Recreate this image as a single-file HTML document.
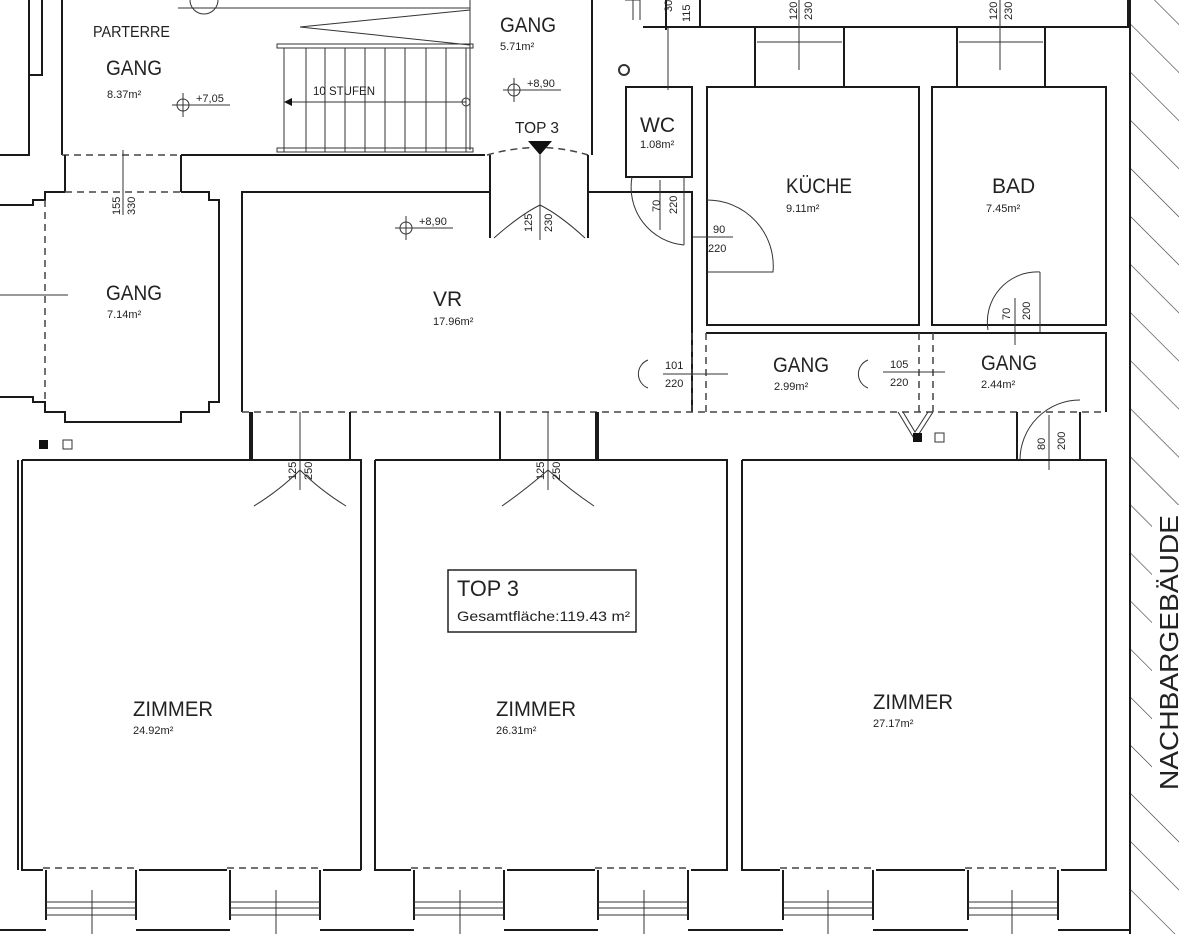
<!DOCTYPE html>
<html><head><meta charset="utf-8"><style>
html,body{margin:0;padding:0;background:#fff;}
svg{display:block;font-family:"Liberation Sans",sans-serif;}
.w{stroke:#1a1a1a;stroke-width:2;fill:none}
.t{stroke:#333;stroke-width:1;fill:none}
.d{stroke:#444;stroke-width:1.5;fill:none;stroke-dasharray:7 5}
text{fill:#222}
.big{font-size:21px}
.sm{font-size:11px}
</style></head><body>
<svg width="1179" height="934" viewBox="0 0 1179 934" xmlns="http://www.w3.org/2000/svg">
<defs>
<pattern id="h" patternUnits="userSpaceOnUse" width="34" height="34" patternTransform="rotate(-45)">
<line x1="0" y1="0" x2="0" y2="34" stroke="#333" stroke-width="1.2"/>
</pattern>
</defs>
<rect x="1131" y="0" width="48" height="934" fill="url(#h)"/>
<rect x="1152" y="505" width="27" height="290" fill="#fff"/>
<line x1="1130" y1="0" x2="1130" y2="934" class="w"/>
<text transform="translate(1178,790) rotate(-90)" font-size="26" textLength="275" lengthAdjust="spacingAndGlyphs">NACHBARGEBÄUDE</text>

<path class="w" d="M29 0V75H42V0 M0 155H29V75"/>
<path class="w" d="M62 0V155 M181 155H485 M592 0V155"/>
<line x1="62" y1="155" x2="181" y2="155" class="d"/>
<path class="d" d="M487 155Q540 140 588 155"/>
<polygon points="528,141 552,141 540,155" fill="#111"/>
<path class="t" d="M178 8H470 M300 27L470 45 M300 27L470 10 M470 0V150"/>
<rect x="277" y="44" width="196" height="4" class="t"/>
<rect x="277" y="148" width="196" height="4" class="t"/>
<g class="t">
<line x1="284" y1="48" x2="284" y2="152"/><line x1="306" y1="48" x2="306" y2="152"/><line x1="325" y1="48" x2="325" y2="152"/><line x1="345" y1="48" x2="345" y2="152"/><line x1="365" y1="48" x2="365" y2="152"/><line x1="385" y1="48" x2="385" y2="152"/><line x1="405" y1="48" x2="405" y2="152"/><line x1="426" y1="48" x2="426" y2="152"/><line x1="446" y1="48" x2="446" y2="152"/><line x1="466" y1="48" x2="466" y2="152"/>
<line x1="288" y1="102" x2="466" y2="102"/>
<circle cx="466" cy="102" r="4"/>
<path d="M190 0A14 14 0 0 0 218 0"/>
</g>
<polygon points="284,102 292,98 292,106" fill="#111"/>
<text x="93" y="37" font-size="16" textLength="77" lengthAdjust="spacingAndGlyphs">PARTERRE</text>
<text x="106" y="75" class="big" textLength="56" lengthAdjust="spacingAndGlyphs">GANG</text>
<text x="107" y="98" class="sm">8.37m²</text>
<text x="313" y="95" font-size="12" textLength="62" lengthAdjust="spacingAndGlyphs">10 STUFEN</text>
<text x="500" y="32" class="big" textLength="56" lengthAdjust="spacingAndGlyphs">GANG</text>
<text x="500" y="50" class="sm">5.71m²</text>
<text x="515" y="133" font-size="16" textLength="44" lengthAdjust="spacingAndGlyphs">TOP 3</text>
<g class="t"><circle cx="183" cy="105" r="6"/><line x1="172" y1="105" x2="230" y2="105"/><line x1="183" y1="93" x2="183" y2="117"/>
<circle cx="514" cy="90" r="6"/><line x1="503" y1="90" x2="561" y2="90"/><line x1="514" y1="78" x2="514" y2="102"/>
<circle cx="406" cy="228" r="6"/><line x1="395" y1="228" x2="453" y2="228"/><line x1="406" y1="216" x2="406" y2="240"/>
<circle cx="624" cy="70" r="5" stroke-width="2"/></g>
<text x="196" y="102" class="sm">+7,05</text>
<text x="527" y="87" class="sm">+8,90</text>
<text x="419" y="225" class="sm">+8,90</text>

<path class="w" d="M65 155V192 M181 155V192"/>
<path class="w" d="M0 205H33V200H45V192H65 M181 192H209V200H219V402H209V412H181V422H65V412H45V402H33V397H0"/>
<line x1="65" y1="192" x2="181" y2="192" class="d"/>
<line x1="45" y1="200" x2="45" y2="402" class="d"/>
<path class="t" d="M0 295H68 M123 150V215"/>
<text x="106" y="300" class="big" textLength="56" lengthAdjust="spacingAndGlyphs">GANG</text>
<text x="107" y="318" class="sm">7.14m²</text>
<text transform="translate(120,215) rotate(-90)" class="sm">155</text>
<text transform="translate(135,215) rotate(-90)" class="sm">330</text>

<path class="w" d="M242 412V192H490 M588 192H692V412"/>
<path class="w" d="M490 155V238 M588 155V238 M692 192V333"/>
<path class="t" d="M494 238Q520 215 540 205 M585 238Q560 215 540 205 M540 155V240"/>
<line x1="242" y1="412" x2="1106" y2="412" class="d"/>
<text x="433" y="306" class="big">VR</text>
<text x="433" y="325" class="sm">17.96m²</text>
<text transform="translate(532,232) rotate(-90)" class="sm">125</text>
<text transform="translate(552,232) rotate(-90)" class="sm">230</text>

<rect x="626" y="87" width="66" height="90" class="w"/>
<path class="w" d="M666 0V30 M643 27H1128V0 M700 0V27"/>
<path class="t" d="M633 0V20 M668 27V90 M625 0H640V20"/>
<text x="640" y="132" class="big">WC</text>
<text x="640" y="148" class="sm">1.08m²</text>
<path class="t" d="M632 177A58 58 0 0 0 684 245 M684 177V245 M660 180V230"/>
<text transform="translate(660,212) rotate(-90)" class="sm">70</text>
<text transform="translate(677,214) rotate(-90)" class="sm">220</text>
<text transform="translate(672,12) rotate(-90)" class="sm">30</text>
<text transform="translate(690,22) rotate(-90)" class="sm">115</text>

<rect x="707" y="87" width="212" height="238" class="w"/>
<rect x="932" y="87" width="174" height="238" class="w"/>
<path class="w" d="M755 27V87 M844 27V87 M957 27V87 M1045 27V87"/>
<path class="t" d="M757 42H842 M959 42H1043 M799 0V70 M1000 0V70"/>
<text transform="translate(797,20) rotate(-90)" class="sm">120</text>
<text transform="translate(812,20) rotate(-90)" class="sm">230</text>
<text transform="translate(997,20) rotate(-90)" class="sm">120</text>
<text transform="translate(1012,20) rotate(-90)" class="sm">230</text>
<path class="t" d="M707 200A66 66 0 0 1 773 272H707 M693 237H733"/>
<text x="713" y="233" class="sm">90</text>
<text x="708" y="252" class="sm">220</text>
<text x="786" y="193" class="big" textLength="66" lengthAdjust="spacingAndGlyphs">KÜCHE</text>
<text x="786" y="212" class="sm">9.11m²</text>
<text x="992" y="193" class="big">BAD</text>
<text x="986" y="212" class="sm">7.45m²</text>
<path class="t" d="M1040 272A50 50 0 0 0 988 330 M1040 272V333 M1015 298V345"/>
<text transform="translate(1010,320) rotate(-90)" class="sm">70</text>
<text transform="translate(1030,320) rotate(-90)" class="sm">200</text>

<path class="w" d="M706 333H1106V412"/>
<path class="d" d="M692 333V412 M706 333V412 M919 333V412 M933 333V412"/>
<path class="t" d="M648 360A15 15 0 0 0 648 388 M663 374H728 M868 360A15 15 0 0 0 868 388 M883 372H945"/>
<text x="665" y="369" class="sm">101</text><text x="665" y="387" class="sm">220</text>
<text x="890" y="368" class="sm">105</text><text x="890" y="386" class="sm">220</text>
<text x="773" y="372" class="big" textLength="56" lengthAdjust="spacingAndGlyphs">GANG</text>
<text x="774" y="390" class="sm">2.99m²</text>
<text x="981" y="370" class="big" textLength="56" lengthAdjust="spacingAndGlyphs">GANG</text>
<text x="981" y="388" class="sm">2.44m²</text>
<path class="t" d="M898 412L915 440L933 412 M903 412L915 432L928 412"/>
<rect x="913" y="433" width="9" height="9" fill="#111"/>
<rect x="935" y="433" width="9" height="9" class="t" stroke-width="2"/>
<rect x="39" y="440" width="9" height="9" fill="#111"/>
<rect x="63" y="440" width="9" height="9" class="t" stroke-width="2"/>
<path class="w" d="M1017 412V460 M1080 412V460"/>
<path class="t" d="M1080 400A60 60 0 0 0 1020 460 M1049 415V470"/>
<text transform="translate(1045,450) rotate(-90)" class="sm">80</text>
<text transform="translate(1065,450) rotate(-90)" class="sm">200</text>

<path class="w" d="M250 412V460 M350 412V460 M500 412V460 M598 412V460 M252 412V460 M596 412V460"/>
<path class="t" d="M254 506Q280 490 300 470 M346 506Q320 490 300 470 M300 412V490 M502 506Q525 490 548 470 M594 506Q570 490 548 470 M548 412V490"/>
<text transform="translate(296,480) rotate(-90)" class="sm">125</text>
<text transform="translate(312,480) rotate(-90)" class="sm">250</text>
<text transform="translate(544,480) rotate(-90)" class="sm">125</text>
<text transform="translate(560,480) rotate(-90)" class="sm">250</text>

<path class="w" d="M22 460H361V870 M22 460V870H43 M139 870H227 M323 870H361"/>
<path class="w" d="M375 460H727V870H691 M375 460V870H411 M507 870H595"/>
<path class="w" d="M742 460H1106V870H1061 M742 460V870H780 M876 870H965"/>
<path class="w" d="M18 460V870"/>
<path class="d" d="M43 868H139 M227 868H323 M411 868H507 M595 868H691 M780 868H876 M965 868H1061"/>
<text x="133" y="716" class="big" textLength="80" lengthAdjust="spacingAndGlyphs">ZIMMER</text><text x="133" y="734" class="sm">24.92m²</text>
<text x="496" y="716" class="big" textLength="80" lengthAdjust="spacingAndGlyphs">ZIMMER</text><text x="496" y="734" class="sm">26.31m²</text>
<text x="873" y="709" class="big" textLength="80" lengthAdjust="spacingAndGlyphs">ZIMMER</text><text x="873" y="727" class="sm">27.17m²</text>
<rect x="448" y="570" width="188" height="62" stroke="#222" stroke-width="1.5" fill="#fff"/>
<text x="457" y="596" font-size="22" textLength="62" lengthAdjust="spacingAndGlyphs">TOP 3</text>
<text x="457" y="621" font-size="14" textLength="173" lengthAdjust="spacingAndGlyphs">Gesamtfläche:119.43 m²</text>

<g class="w">
<path d="M46 870V920 M136 870V920 M230 870V920 M320 870V920 M414 870V920 M504 870V920 M598 870V920 M688 870V920 M783 870V920 M873 870V920 M968 870V920 M1058 870V920"/>
<path d="M0 930H46 M136 930H230 M320 930H414 M504 930H598 M688 930H783 M873 930H968 M1058 930H1130"/>
</g>
<g class="t">
<path d="M46 902H136M46 908H136M46 915H136 M230 902H320M230 908H320M230 915H320 M414 902H504M414 908H504M414 915H504 M598 902H688M598 908H688M598 915H688 M783 902H873M783 908H873M783 915H873 M968 902H1058M968 908H1058M968 915H1058"/>
<path d="M92 890V934 M276 890V934 M460 890V934 M644 890V934 M828 890V934 M1012 890V934"/>
</g>
</svg>
</body></html>
